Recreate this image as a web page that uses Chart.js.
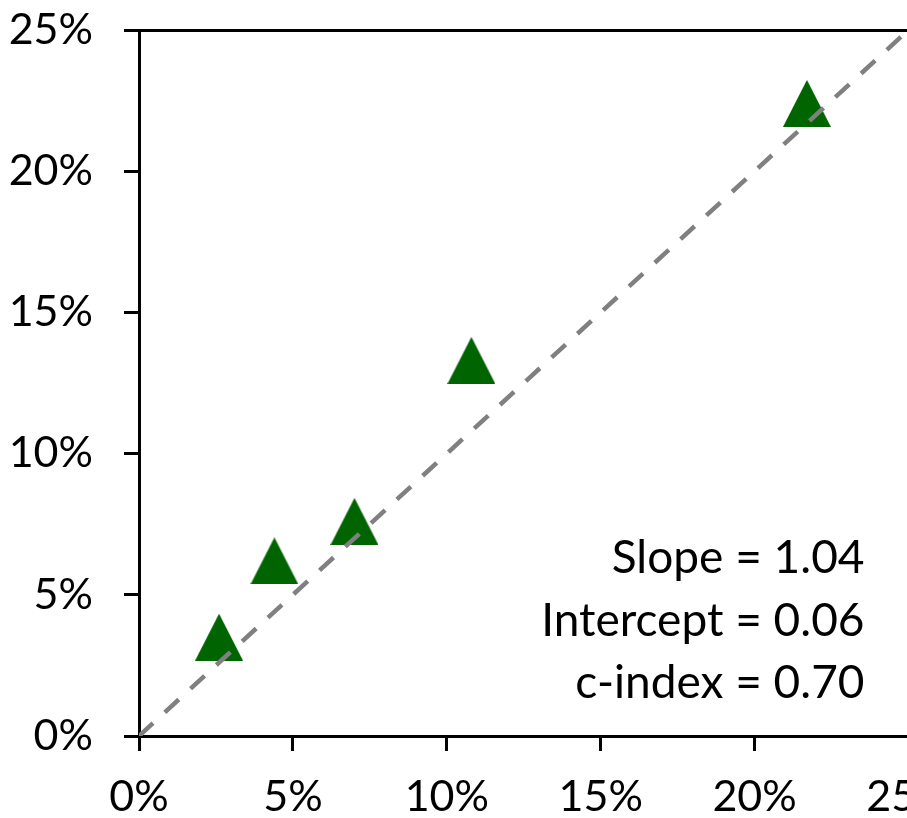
<!DOCTYPE html>
<html>
<head>
<meta charset="utf-8">
<script src="https://cdn.jsdelivr.net/npm/chart.js@4.4.1/dist/chart.umd.min.js"></script>
<style>
  html, body { margin: 0; padding: 0; background: #fff; overflow: hidden; }
  canvas { display: block; }
</style>
</head>
<body>
<canvas id="calib" width="960" height="818"></canvas>
<script>
// predicted vs observed risk, in percent
const predicted = [2.6, 4.4, 7.0, 10.8, 21.7];
const observed = [3.5, 6.2, 7.6, 13.3, 22.4];
const identityLine = [0, 25];
const axisTicks = [0, 5, 10, 15, 20, 25];
const statsText = ['Slope = 1.04', 'Intercept = 0.06', 'c-index = 0.70'];

const FONT = 'Lato, "Open Sans", sans-serif';

// upright triangle marker, a bit taller than equilateral
function triangleMarker(w, h, color) {
  const c = document.createElement('canvas');
  c.width = w;
  c.height = h;
  const g = c.getContext('2d');
  g.fillStyle = color;
  g.beginPath();
  g.moveTo(w / 2, 0);
  g.lineTo(w, h);
  g.lineTo(0, h);
  g.closePath();
  g.fill();
  return c;
}

const statsPlugin = {
  id: 'stats',
  afterDatasetsDraw(chart) {
    const { ctx, chartArea } = chart;
    ctx.save();
    ctx.font = '46px ' + FONT;
    ctx.fillStyle = '#000';
    ctx.textAlign = 'right';
    ctx.textBaseline = 'alphabetic';
    statsText.forEach((t, i) => {
      ctx.fillText(t, chartArea.right - 44, chartArea.bottom - 163 + i * 62.5);
    });
    ctx.restore();
  }
};

const edgeColor = (ctx) => (ctx.tick && ctx.tick.value === 25 ? '#000' : 'rgba(0,0,0,0)');

const axis = (pos) => ({
  type: 'linear',
  position: pos,
  min: 0,
  max: 25,
  afterBuildTicks(scale) {
    scale.ticks = axisTicks.map(v => ({ value: v }));
  },
  border: { display: true, color: '#000', width: 3 },
  grid: {
    drawOnChartArea: true,
    color: edgeColor,
    lineWidth: 3,
    tickColor: '#000',
    tickWidth: 3,
    tickLength: 15
  },
  ticks: {
    color: '#000',
    font: { family: FONT, size: 43 },
    padding: pos === 'left' ? 31 : 20,
    maxRotation: 0,
    autoSkip: false,
    callback: (v) => v + '%'
  }
});

// fixed axis sizes; labels may spill past the plot edges
const xScale = axis('bottom');
xScale.afterFit = (s) => { s.height = 82; s.paddingLeft = 0; s.paddingRight = 0; };
const yScale = axis('left');
yScale.afterFit = (s) => { s.width = 139; s.paddingTop = 0; s.paddingBottom = 0; };

new Chart(document.getElementById('calib').getContext('2d'), {
  type: 'scatter',
  data: {
    datasets: [
      {
        label: 'Identity',
        type: 'line',
        data: identityLine.map(v => ({ x: v, y: v })),
        borderColor: '#808080',
        borderWidth: 4.5,
        borderDash: [19, 16],
        pointRadius: 0,
        fill: false,
        // dashed line sits above the markers
        order: 1
      },
      {
        label: 'Observed',
        data: predicted.map((x, i) => ({ x, y: observed[i] })),
        pointStyle: triangleMarker(48, 47, '#006400'),
        pointRadius: 24,
        order: 2
      }
    ]
  },
  options: {
    responsive: false,
    animation: false,
    layout: { padding: { top: 30, right: 51.5, bottom: 0, left: 0 } },
    plugins: {
      legend: { display: false },
      tooltip: { enabled: false }
    },
    scales: { x: xScale, y: yScale }
  },
  plugins: [statsPlugin]
});
</script>
</body>
</html>
